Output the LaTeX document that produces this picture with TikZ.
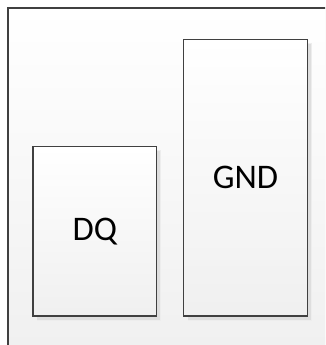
\documentclass[tikz,border=0pt]{standalone}
\usepackage{fontspec}
\setmainfont{Carlito}
\begin{document}
\begin{tikzpicture}[x=1pt,y=1pt,
  box/.style={draw=black!75, line width=1.5pt, top color=white, bottom color=black!6, inner sep=0pt,
    font=\fontsize{34.5}{38}\selectfont, text=black},
  shade/.style={fill=black!13, draw=black!8, line width=1.5pt}]
\useasboundingbox (0,0) rectangle (325,345);
\clip (0,0) rectangle (325,345);
\shade[top color=white, bottom color=black!6] (8,337) rectangle (340,-10);
\draw[black!75, line width=1.5pt] (8,-10) -- (8,337) -- (340,337);
% shadows
\fill[black!7] (37,24) rectangle (161,195);
\fill[black!13] (36.5,25) rectangle (160,194);
\fill[black!7] (188,24) rectangle (311.5,302);
\fill[black!13] (187.5,25) rectangle (310.5,301);
\node[box, minimum width=123.7pt, minimum height=169.3pt] (dq) at (94.8,113.7) {DQ};
\node[box, minimum width=123.6pt, minimum height=276.3pt] (gnd) at (245.5,167.2) {GND};
\end{tikzpicture}
\end{document}
